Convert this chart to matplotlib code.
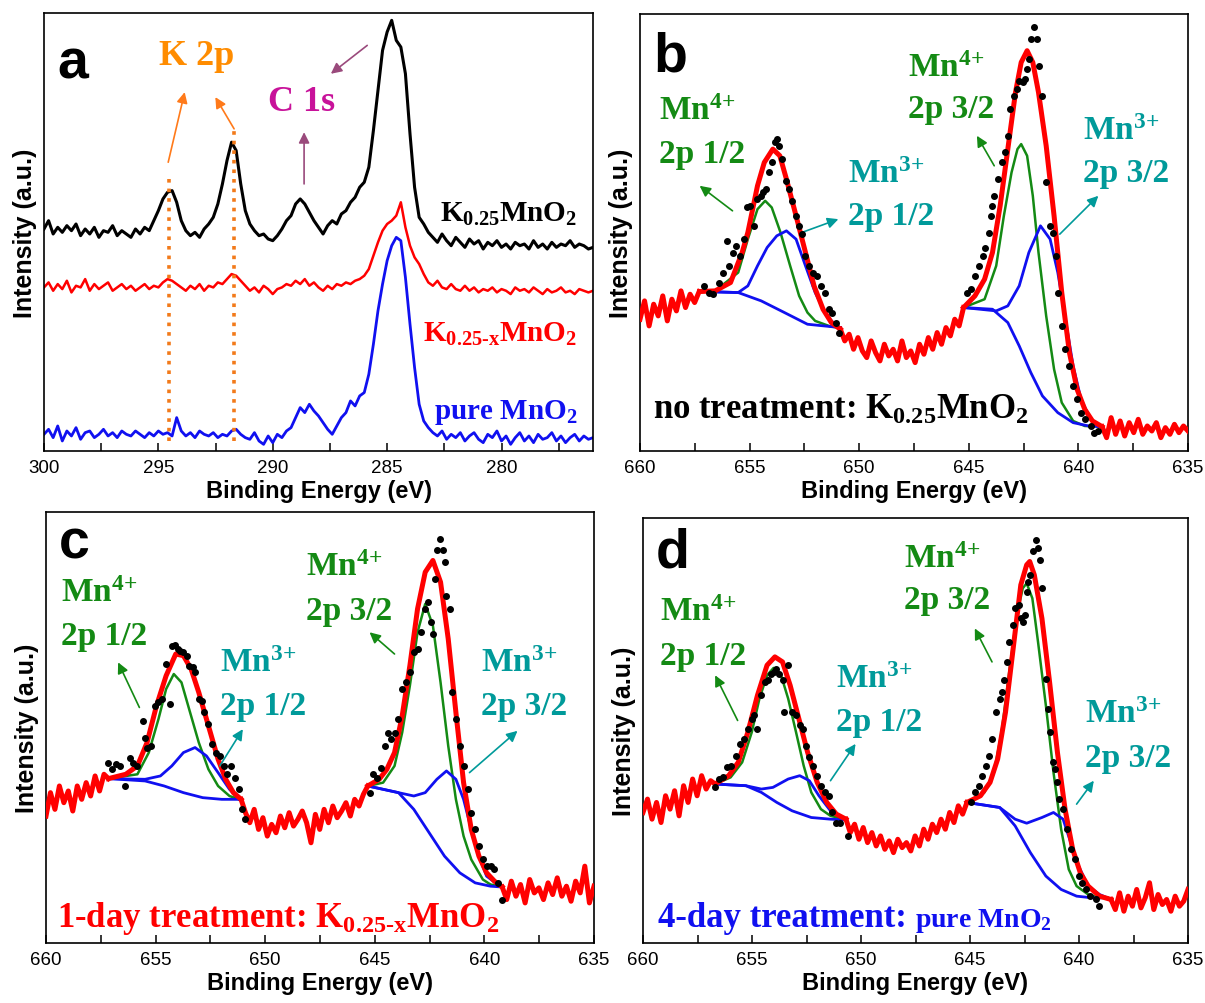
import numpy as np
import matplotlib.pyplot as plt
from matplotlib.ticker import MultipleLocator

plt.rcParams['font.family'] = 'Liberation Sans'
plt.rcParams['mathtext.fontset'] = 'custom'
plt.rcParams['mathtext.rm'] = 'Liberation Serif:bold'
plt.rcParams['mathtext.it'] = 'Liberation Serif:bold'
plt.rcParams['mathtext.bf'] = 'Liberation Serif:bold'

RED = '#ff0000'
BLUE = '#1010f0'
GREEN = '#148a14'
TEAL = '#009a9a'
ORANGE = '#ff8c00'
MAGENTA = '#c8129a'
MAUVE = '#9a4a7c'

# ---------------- panel a: C 1s / K 2p region ----------------
a_energy = np.round(300 - 0.2 * np.arange(121), 1)
a_k025 = [665, 690, 650, 670, 655, 675, 660, 680, 645, 665,
          650, 670, 640, 660, 655, 675, 645, 660, 650, 640,
          665, 650, 670, 660, 690, 720, 755, 775, 780, 745,
          690, 660, 645, 655, 640, 665, 680, 700, 740, 800,
          870, 925, 900, 800, 720, 680, 660, 645, 650, 635,
          630, 645, 665, 690, 705, 740, 755, 740, 715, 690,
          670, 650, 675, 690, 680, 710, 720, 745, 760, 790,
          805, 850, 960, 1080, 1200, 1255, 1290, 1230, 1210, 1130,
          950, 790, 700, 680, 655, 640, 625, 650, 630, 615,
          640, 625, 610, 635, 620, 630, 605, 625, 615, 630,
          610, 620, 605, 625, 615, 620, 605, 630, 610, 620,
          605, 625, 610, 620, 615, 630, 610, 620, 615, 605,
          610]
a_k025x = [490, 505, 480, 500, 485, 510, 475, 495, 490, 515,
           480, 500, 485, 495, 505, 480, 490, 500, 485, 495,
           480, 490, 500, 485, 495, 490, 505, 515, 510, 500,
           490, 480, 495, 485, 500, 480, 495, 490, 505, 500,
           515, 530, 525, 510, 495, 480, 490, 475, 495, 485,
           470, 485, 490, 500, 495, 510, 500, 515, 495, 505,
           490, 480, 495, 485, 500, 495, 505, 500, 510, 515,
           525, 545, 585, 625, 660, 680, 690, 705, 745, 670,
           615, 580, 560, 530, 505, 495, 510, 490, 485, 500,
           485, 480, 495, 480, 490, 475, 485, 480, 490, 475,
           485, 480, 470, 490, 480, 485, 475, 490, 480, 470,
           485, 475, 480, 490, 475, 480, 470, 485, 480, 475,
           480]
a_pure = [50, 65, 40, 75, 30, 60, 45, 70, 35, 55,
          60, 40, 50, 65, 45, 55, 40, 60, 50, 45,
          60, 50, 40, 55, 45, 60, 50, 55, 45, 100,
          60, 45, 55, 40, 60, 50, 45, 55, 40, 50,
          45, 60, 65, 50, 40, 35, 55, 30, 20, 45,
          25, 50, 40, 60, 70, 100, 130, 115, 140, 120,
          105, 85, 65, 50, 75, 100, 115, 150, 135, 165,
          175, 230, 320, 420, 500, 570, 615, 640, 630, 520,
          380, 250, 140, 90, 70, 55, 45, 60, 35, 50,
          40, 55, 30, 45, 55, 35, 25, 50, 40, 60,
          30, 45, 20, 40, 55, 30, 45, 25, 50, 35,
          40, 55, 30, 45, 25, 40, 50, 30, 45, 35,
          40]
k2p_line_e = [294.55, 291.7]
k2p_line_top = [830, 975]
k2p_line_bottom = 30
a_orange_arrows = [((294.57, 865), (293.85, 1075)), ((291.69, 965), (292.51, 1060))]
a_c1s_arrows = [((288.63, 800), (288.63, 955)), ((285.87, 1215), (287.46, 1130))]

# ---------------- panel b: no treatment ----------------
b_raw1_e = np.linspace(660.0, 657.3, 14)
b_raw1_y = [395, 450, 375, 440, 405, 465, 390, 455, 420, 480, 430, 470, 445, 478]
b_raw2_e = np.linspace(650.86, 645.24, 29)
b_raw2_y = [365, 330, 350, 305, 340, 300, 280, 330, 295, 270, 320, 285, 305, 270, 330,
            280, 300, 265, 320, 290, 340, 305, 355, 320, 370, 345, 395, 375, 430]
b_raw3_e = np.linspace(638.92, 635.0, 20)
b_raw3_y = [73, 40, 100, 50, 90, 45, 85, 55, 95, 50, 75, 60, 85, 40, 70, 50, 80, 55, 75, 60]
b_env1_e = [657.28, 656.57, 655.87, 655.34, 655.08, 654.64, 654.33, 653.94, 653.62, 653.32,
            652.88, 652.45, 652.06, 651.65, 651.27, 650.86]
b_env1_y = [478, 480, 505, 595, 655, 795, 865, 905, 885, 815, 705, 595, 495, 425, 385, 365]
b_g1_e = [657.28, 656.57, 655.52, 655.08, 654.64, 654.29, 653.99, 653.59, 653.15, 652.74,
          652.36, 652.01, 651.30, 650.86]
b_g1_y = [478, 480, 535, 635, 725, 750, 730, 655, 555, 465, 415, 390, 373, 370]
b_b1_e = [657.28, 656.57, 655.52, 655.08, 654.64, 654.20, 653.76, 653.32, 652.88, 652.45,
          652.01, 651.48, 651.04, 650.86]
b_b1_y = [478, 477, 475, 495, 555, 610, 645, 660, 635, 555, 475, 405, 375, 370]
b_bg1_e = [657.28, 656.57, 655.52, 654.47, 653.41, 652.36, 650.86]
b_bg1_y = [480, 477, 475, 450, 415, 380, 370]
b_env2_e = [645.24, 644.72, 644.28, 643.92, 643.57, 643.22, 642.87, 642.61, 642.34, 642.08,
            641.82, 641.47, 641.11, 640.76, 640.41, 640.06, 639.71, 639.36, 638.92]
b_env2_y = [430, 465, 515, 595, 735, 905, 1075, 1165, 1200, 1165, 1075, 915, 705, 475, 295,
            185, 125, 90, 73]
b_g2_e = [645.24, 644.28, 643.75, 643.40, 643.05, 642.78, 642.61, 642.34, 642.08, 641.82,
          641.47, 641.11, 640.76, 640.24, 639.71, 638.92]
b_g2_y = [430, 455, 555, 705, 835, 905, 920, 885, 765, 595, 405, 245, 145, 90, 75, 73]
b_b2_e = [645.24, 643.75, 643.22, 642.70, 642.26, 641.73, 641.29, 640.94, 640.59, 640.24,
          639.88, 639.44, 638.92]
b_b2_y = [430, 420, 435, 495, 595, 675, 635, 535, 395, 255, 155, 95, 73]
b_bg2_e = [645.24, 643.92, 643.22, 642.70, 642.17, 641.64, 640.94, 640.24, 639.53, 638.92]
b_bg2_y = [430, 425, 385, 315, 235, 165, 115, 85, 75, 73]
b_dot1_e = [657.10, 656.84, 656.66, 656.40, 656.22, 656.05, 655.96, 655.78, 655.61, 655.43,
            655.26, 655.12, 654.99, 654.82, 654.64, 654.50, 654.38, 654.26, 654.11, 653.97,
            653.85, 653.76, 653.68, 653.50, 653.32, 653.20, 653.06, 652.88, 652.74, 652.62,
            652.45, 652.27, 652.09, 651.92, 651.74, 651.57, 651.39, 651.22, 651.04, 650.92]
b_dot1_y = [495, 475, 470, 505, 535, 630, 555, 595, 615, 585, 635, 730, 735, 675, 755, 765,
            775, 785, 835, 865, 925, 935, 915, 875, 810, 785, 750, 705, 675, 650, 585, 555,
            535, 525, 495, 475, 425, 415, 385, 355]
b_dot2_e = [645.07, 644.89, 644.72, 644.54, 644.36, 644.28, 644.10, 644.01, 643.92, 643.84,
            643.66, 643.49, 643.36, 643.22, 643.13, 642.96, 642.78, 642.70, 642.55, 642.43,
            642.34, 642.26, 642.17, 642.03, 641.90, 641.82, 641.64, 641.47, 641.29, 641.15,
            641.03, 640.94, 640.76, 640.59, 640.41, 640.24, 640.06, 639.88, 639.71, 639.44,
            639.27, 639.09]
b_dot2_y = [475, 485, 525, 555, 585, 610, 655, 705, 735, 765, 815, 865, 895, 945, 1025, 1065,
            1085, 1110, 1105, 1115, 1145, 1175, 1235, 1270, 1235, 1155, 1065, 805, 675, 655,
            585, 475, 375, 305, 255, 195, 155, 115, 95, 75, 55, 60]

# ---------------- panel c: 1-day treatment ----------------
c_raw1_e = np.linspace(660.0, 657.15, 15)
c_raw1_y = [380, 450, 400, 470, 420, 455, 395, 470, 430, 480, 440, 500, 455, 505, 492]
c_raw2_e = np.linspace(651.10, 645.32, 30)
c_raw2_y = [430, 390, 360, 400, 340, 375, 320, 355, 330, 380, 345, 390, 350, 370, 395,
            360, 300, 385, 340, 400, 360, 410, 375, 395, 420, 380, 430, 410, 445, 470]
c_raw3_e = np.linspace(639.19, 635.0, 21)
c_raw3_y = [168, 130, 185, 140, 175, 120, 190, 150, 165, 130, 180, 145, 195, 140, 170, 125,
            185, 150, 230, 120, 170]
c_env1_e = [657.15, 656.36, 655.83, 655.39, 654.96, 654.52, 654.08, 653.73, 653.38, 653.03,
            652.59, 652.15, 651.80, 651.45, 651.10]
c_env1_y = [492, 505, 530, 600, 710, 800, 865, 860, 820, 750, 650, 550, 490, 450, 430]
c_g1_e = [657.15, 655.83, 655.31, 654.87, 654.52, 654.17, 653.82, 653.47, 653.03, 652.59,
          652.15, 651.63, 651.19]
c_g1_y = [492, 505, 570, 670, 760, 805, 780, 700, 600, 520, 470, 440, 430]
c_b1_e = [657.15, 655.48, 654.78, 654.26, 653.73, 653.20, 652.68, 652.15, 651.63, 651.19]
c_b1_y = [492, 490, 500, 530, 570, 585, 560, 510, 460, 430]
c_bg1_e = [657.15, 655.48, 654.61, 653.73, 652.85, 651.98, 651.19]
c_bg1_y = [492, 485, 470, 450, 435, 430, 430]
c_env2_e = [645.32, 644.80, 644.45, 644.10, 643.75, 643.40, 643.05, 642.70, 642.35, 642.00,
            641.65, 641.30, 640.95, 640.60, 640.25, 639.90, 639.54, 639.19]
c_env2_y = [470, 490, 520, 570, 680, 830, 1000, 1110, 1145, 1080, 910, 690, 480, 340, 260,
            210, 185, 168]
c_g2_e = [645.32, 644.62, 644.10, 643.75, 643.40, 643.05, 642.70, 642.35, 642.00, 641.65,
          641.30, 640.95, 640.60, 640.07, 639.72, 639.28]
c_g2_y = [470, 480, 530, 630, 770, 930, 1015, 950, 780, 590, 430, 320, 250, 190, 175, 170]
c_b2_e = [645.32, 643.92, 643.22, 642.70, 642.17, 641.73, 641.30, 640.95, 640.60, 640.25,
          639.90, 639.28]
c_b2_y = [470, 450, 440, 450, 490, 515, 490, 430, 340, 260, 200, 170]
c_bg2_e = [645.32, 643.92, 643.22, 642.52, 641.82, 641.12, 640.42, 639.72, 639.28]
c_bg2_y = [470, 450, 400, 330, 260, 210, 180, 170, 168]
c_dot1_e = [657.15, 656.97, 656.80, 656.62, 656.39, 656.18, 656.01, 655.83, 655.57, 655.48,
            655.39, 655.22, 655.04, 654.87, 654.69, 654.52, 654.34, 654.26, 654.12, 653.99,
            653.87, 653.73, 653.59, 653.47, 653.29, 653.20, 653.03, 652.89, 652.77, 652.59,
            652.42, 652.24, 652.07, 651.89, 651.72, 651.54, 651.37, 651.19, 651.07, 650.93]
c_dot1_y = [540, 520, 535, 530, 470, 555, 540, 530, 665, 615, 585, 590, 710, 720, 730, 835,
            715, 890, 892, 880, 875, 870, 860, 830, 825, 810, 730, 725, 690, 655, 595, 570,
            560, 530, 505, 530, 495, 460, 400, 370]
c_dot2_e = [645.24, 645.06, 644.89, 644.71, 644.54, 644.41, 644.27, 644.10, 643.92, 643.75,
            643.57, 643.40, 643.22, 643.05, 642.87, 642.70, 642.56, 642.43, 642.35, 642.26,
            642.17, 642.03, 641.91, 641.82, 641.73, 641.56, 641.47, 641.30, 641.12, 640.95,
            640.77, 640.60, 640.42, 640.25, 640.07, 639.90, 639.72, 639.54, 639.37, 639.19]
c_dot2_y = [450, 505, 495, 525, 590, 630, 610, 630, 670, 760, 780, 810, 870, 880, 930, 1000,
            1020, 960, 925, 1090, 1175, 1210, 1175, 1140, 1040, 1000, 750, 670, 590, 530,
            460, 390, 340, 290, 250, 230, 230, 220, 180, 130]

# ---------------- panel d: 4-day treatment ----------------
d_raw1_e = np.linspace(660.0, 656.69, 17)
d_raw1_y = [390, 430, 370, 420, 360, 440, 400, 455, 380, 470, 420, 490, 440, 500, 460, 485, 475]
d_raw2_e = np.linspace(650.69, 645.14, 29)
d_raw2_y = [370, 330, 355, 310, 345, 300, 330, 290, 320, 280, 305, 270, 310, 285, 300,
            275, 320, 290, 340, 310, 355, 330, 370, 340, 390, 360, 410, 385, 420]
d_raw3_e = np.linspace(638.53, 635.0, 19)
d_raw3_y = [130, 100, 150, 95, 140, 110, 160, 105, 135, 180, 100, 145, 115, 130, 95, 140,
            110, 125, 160]
d_env1_e = [656.69, 656.07, 655.63, 655.19, 654.75, 654.31, 653.95, 653.60, 653.25, 652.89,
            652.45, 652.01, 651.57, 651.13, 650.69]
d_env1_y = [475, 500, 540, 630, 740, 830, 855, 840, 770, 680, 570, 480, 420, 385, 370]
d_g1_e = [656.69, 655.98, 655.45, 655.01, 654.66, 654.31, 654.01, 653.69, 653.34, 652.98,
          652.63, 652.28, 651.84, 651.40, 650.78]
d_g1_y = [475, 495, 540, 630, 730, 800, 822, 805, 730, 630, 530, 450, 400, 380, 370]
d_b1_e = [656.69, 655.28, 654.57, 654.04, 653.34, 652.81, 652.37, 651.93, 651.40, 650.78]
d_b1_y = [475, 470, 460, 465, 490, 500, 485, 440, 395, 370]
d_bg1_e = [656.69, 655.28, 654.57, 653.86, 653.16, 652.28, 651.40, 650.78]
d_bg1_y = [475, 470, 450, 420, 395, 375, 370, 368]
d_env2_e = [645.14, 644.52, 644.08, 643.73, 643.37, 643.02, 642.67, 642.40, 642.26, 642.05,
            641.70, 641.35, 640.99, 640.64, 640.29, 639.94, 639.58, 639.06, 638.53]
d_env2_y = [420, 440, 480, 550, 690, 880, 1070, 1130, 1140, 1100, 970, 780, 570, 400, 280,
            210, 170, 140, 130]
d_g2_e = [645.14, 644.34, 643.90, 643.55, 643.20, 642.85, 642.58, 642.40, 642.14, 641.88,
          641.52, 641.17, 640.82, 640.47, 640.11, 639.58, 639.06]
d_g2_y = [420, 450, 510, 630, 810, 980, 1060, 1075, 1030, 900, 710, 510, 340, 220, 170, 145, 135]
d_b2_e = [645.14, 643.64, 642.93, 642.40, 641.70, 641.17, 640.73, 640.38, 640.02, 639.58,
          639.06, 638.70]
d_b2_y = [420, 405, 370, 358, 375, 390, 370, 300, 230, 170, 145, 135]
d_bg2_e = [645.14, 643.64, 642.93, 642.23, 641.52, 640.82, 640.11, 639.41, 638.70]
d_bg2_y = [420, 405, 350, 270, 200, 160, 140, 135, 135]
d_dot1_e = [656.69, 656.51, 656.33, 656.16, 655.98, 655.72, 655.54, 655.36, 655.19, 655.01,
            654.89, 654.75, 654.57, 654.39, 654.25, 654.13, 654.01, 653.90, 653.78, 653.60,
            653.51, 653.34, 653.16, 652.98, 652.81, 652.67, 652.54, 652.37, 652.19, 652.01,
            651.84, 651.66, 651.48, 651.31, 651.13, 650.96, 650.60]
d_dot1_y = [465, 490, 495, 525, 530, 560, 595, 610, 640, 670, 680, 640, 740, 780, 785, 805,
            810, 820, 805, 785, 690, 830, 690, 680, 650, 640, 590, 555, 530, 500, 470, 450,
            440, 390, 360, 360, 320]
d_dot2_e = [644.96, 644.79, 644.61, 644.43, 644.26, 644.13, 643.99, 643.82, 643.64, 643.55,
            643.46, 643.29, 643.20, 643.02, 642.93, 642.76, 642.67, 642.58, 642.49, 642.40,
            642.32, 642.23, 642.09, 641.96, 641.88, 641.79, 641.70, 641.52, 641.44, 641.35,
            641.17, 641.08, 640.99, 640.91, 640.73, 640.55, 640.38, 640.20, 640.02, 639.85,
            639.67, 639.50, 639.23, 639.06]
d_dot2_y = [420, 450, 470, 500, 530, 560, 610, 690, 730, 750, 785, 840, 900, 950, 1000, 1010,
            970, 960, 980, 1050, 1080, 1100, 1170, 1205, 1180, 1145, 1060, 790, 700, 630, 540,
            520, 480, 430, 400, 340, 280, 250, 200, 180, 160, 140, 130, 110]

# label anchors (energy, intensity) and arrows (tail, head) for the fitted panels
b_labels = [(659.12, 995, 865, GREEN, '4+', '2p 1/2'), (650.51, 805, 680, TEAL, '3+', '2p 1/2'),
            (647.79, 1125, 1000, GREEN, '4+', '2p 3/2'), (639.80, 935, 810, TEAL, '3+', '2p 3/2')]
b_arrows = [((655.78, 720), (657.28, 795), GREEN), ((652.62, 655), (650.95, 695), TEAL),
            ((643.84, 855), (644.63, 945), GREEN), ((640.85, 650), (639.09, 765), TEAL)]
c_labels = [(659.33, 1025, 895, GREEN, '4+', '2p 1/2'), (652.07, 815, 685, TEAL, '3+', '2p 1/2'),
            (648.13, 1100, 970, GREEN, '4+', '2p 3/2'), (640.16, 815, 685, TEAL, '3+', '2p 3/2')]
c_arrows = [((655.74, 705), (656.71, 840), GREEN), ((652.07, 530), (651.02, 640), TEAL),
            ((644.10, 865), (645.24, 930), GREEN), ((640.68, 510), (638.49, 635), TEAL)]
d_labels = [(659.24, 965, 835, GREEN, '4+', '2p 1/2'), (651.13, 765, 635, TEAL, '3+', '2p 1/2'),
            (648.05, 1125, 1000, GREEN, '4+', '2p 3/2'), (639.73, 660, 530, TEAL, '3+', '2p 3/2')]
d_arrows = [((655.66, 665), (656.69, 800), GREEN), ((651.40, 485), (650.25, 595), TEAL),
            ((643.99, 840), (644.78, 940), GREEN), ((640.11, 415), (639.32, 485), TEAL)]

SERIF = dict(family='Liberation Serif', fontweight='bold')

fig = plt.figure(figsize=(12.05, 10.04), dpi=100)
W, H = 1205, 1004


def make_axes(left, right, top, bottom):
    return fig.add_axes([left / W, 1 - bottom / H, (right - left) / W, (bottom - top) / H])


def style(ax, xlim, ylim):
    ax.set_xlim(*xlim)
    ax.set_ylim(*ylim)
    ax.set_yticks([])
    ax.xaxis.set_major_locator(MultipleLocator(5))
    ax.xaxis.set_minor_locator(MultipleLocator(2.5))
    ax.tick_params(axis='x', which='both', direction='in', length=6, width=1.1,
                   labelsize=13.5, pad=6)
    ax.set_xlabel('Binding Energy (eV)', fontsize=17, fontweight='bold', labelpad=2)
    ax.set_ylabel('Intensity (a.u.)', fontsize=18, fontweight='bold', labelpad=5)
    for s in ax.spines.values():
        s.set_linewidth(1.2)


def arrow(ax, tail, head, color):
    ax.annotate('', xy=head, xytext=tail,
                arrowprops=dict(arrowstyle='-|>', color=color, lw=1.2,
                                mutation_scale=16, shrinkA=0, shrinkB=0))


def fit_panel(ax, raws, envs, greens, blues, bgs, dots, labels, arrows, letter, letter_y):
    for e, y in raws + envs:
        ax.plot(e, y, color=RED, lw=3.6, zorder=3, solid_joinstyle='round')
    for e, y in greens:
        ax.plot(e, y, color=GREEN, lw=1.8, zorder=2)
    for e, y in blues + bgs:
        ax.plot(e, y, color=BLUE, lw=2.0, zorder=2)
    for e, y in dots:
        ax.plot(e, y, 'o', color='black', ms=4, zorder=4)
    for x, y1, y2, col, ch, orb in labels:
        ax.text(x, y1, r'Mn$^{\text{%s}}$' % ch, color=col, fontsize=24, ha='left',
                va='baseline', **SERIF)
        ax.text(x, y2, orb, color=col, fontsize=24, ha='left', va='baseline', **SERIF)
    for tail, head, col in arrows:
        arrow(ax, tail, head, col)
    ax.text(659.4, letter_y, letter, fontsize=40, fontweight='bold', ha='left', va='baseline')


# ---- a
ax = make_axes(44, 593, 14, 452)
ax.plot(a_energy, a_k025, color='black', lw=2.2)
ax.plot(a_energy, a_k025x, color=RED, lw=1.8)
ax.plot(a_energy, a_pure, color=BLUE, lw=2.0)
for e, top in zip(k2p_line_e, k2p_line_top):
    ax.plot([e, e], [k2p_line_bottom, top], ':', color='#f27a1a', lw=2.6, zorder=5)
for tail, head in a_orange_arrows:
    arrow(ax, tail, head, '#ff7a1a')
for tail, head in a_c1s_arrows:
    arrow(ax, tail, head, MAUVE)
ax.text(294.98, 1160, 'K 2p', color=ORANGE, fontsize=26, va='baseline', **SERIF)
ax.text(290.22, 1020, 'C 1s', color=MAGENTA, fontsize=26, va='baseline', **SERIF)
ax.text(276.67, 690, r'K$_{0.25}$MnO$_2$', color='black', fontsize=21, ha='right', va='baseline', **SERIF)
ax.text(276.67, 330, r'K$_{0.25\text{-}x}$MnO$_2$', color=RED, fontsize=21, ha='right', va='baseline', **SERIF)
ax.text(276.67, 100, r'pure MnO$_2$', color=BLUE, fontsize=21, ha='right', va='baseline', **SERIF)
ax.text(299.4, 1120, 'a', fontsize=40, fontweight='bold', ha='left', va='baseline')
style(ax, (300, 276), (0, 1312))

# ---- b
ax = make_axes(640, 1188, 15, 452)
fit_panel(ax, [(b_raw1_e, b_raw1_y), (b_raw2_e, b_raw2_y), (b_raw3_e, b_raw3_y)],
          [(b_env1_e, b_env1_y), (b_env2_e, b_env2_y)],
          [(b_g1_e, b_g1_y), (b_g2_e, b_g2_y)],
          [(b_b1_e, b_b1_y), (b_b2_e, b_b2_y)],
          [(b_bg1_e, b_bg1_y), (b_bg2_e, b_bg2_y)],
          [(b_dot1_e, b_dot1_y), (b_dot2_e, b_dot2_y)],
          b_labels, b_arrows, 'b', 1140)
ax.text(659.39, 100, r'no treatment: K$_{0.25}$MnO$_2$', color='black', fontsize=25,
        ha='left', va='baseline', **SERIF)
style(ax, (660, 635), (0, 1310))

# ---- c
ax = make_axes(46, 594, 513, 944)
fit_panel(ax, [(c_raw1_e, c_raw1_y), (c_raw2_e, c_raw2_y), (c_raw3_e, c_raw3_y)],
          [(c_env1_e, c_env1_y), (c_env2_e, c_env2_y)],
          [(c_g1_e, c_g1_y), (c_g2_e, c_g2_y)],
          [(c_b1_e, c_b1_y), (c_b2_e, c_b2_y)],
          [(c_bg1_e, c_bg1_y), (c_bg2_e, c_bg2_y)],
          [(c_dot1_e, c_dot1_y), (c_dot2_e, c_dot2_y)],
          c_labels, c_arrows, 'c', 1155)
ax.text(659.51, 50, r'1-day treatment: K$_{0.25\text{-}x}$MnO$_2$', color=RED, fontsize=25,
        ha='left', va='baseline', **SERIF)
style(ax, (660, 635), (0, 1290))

# ---- d
ax = make_axes(643, 1188, 519, 944)
fit_panel(ax, [(d_raw1_e, d_raw1_y), (d_raw2_e, d_raw2_y), (d_raw3_e, d_raw3_y)],
          [(d_env1_e, d_env1_y), (d_env2_e, d_env2_y)],
          [(d_g1_e, d_g1_y), (d_g2_e, d_g2_y)],
          [(d_b1_e, d_b1_y), (d_b2_e, d_b2_y)],
          [(d_bg1_e, d_bg1_y), (d_bg2_e, d_bg2_y)],
          [(d_dot1_e, d_dot1_y), (d_dot2_e, d_dot2_y)],
          d_labels, d_arrows, 'd', 1125)
t1 = ax.text(659.33, 50, '4-day treatment: ', color=BLUE, fontsize=25,
             ha='left', va='baseline', **SERIF)
ax.annotate(r'pure MnO$_2$', xy=(1, 0), xycoords=t1, color=BLUE, fontsize=20,
            ha='left', va='bottom', **SERIF)
style(ax, (660, 635), (0, 1270))

fig.savefig('out.png', dpi=100, facecolor='white')
